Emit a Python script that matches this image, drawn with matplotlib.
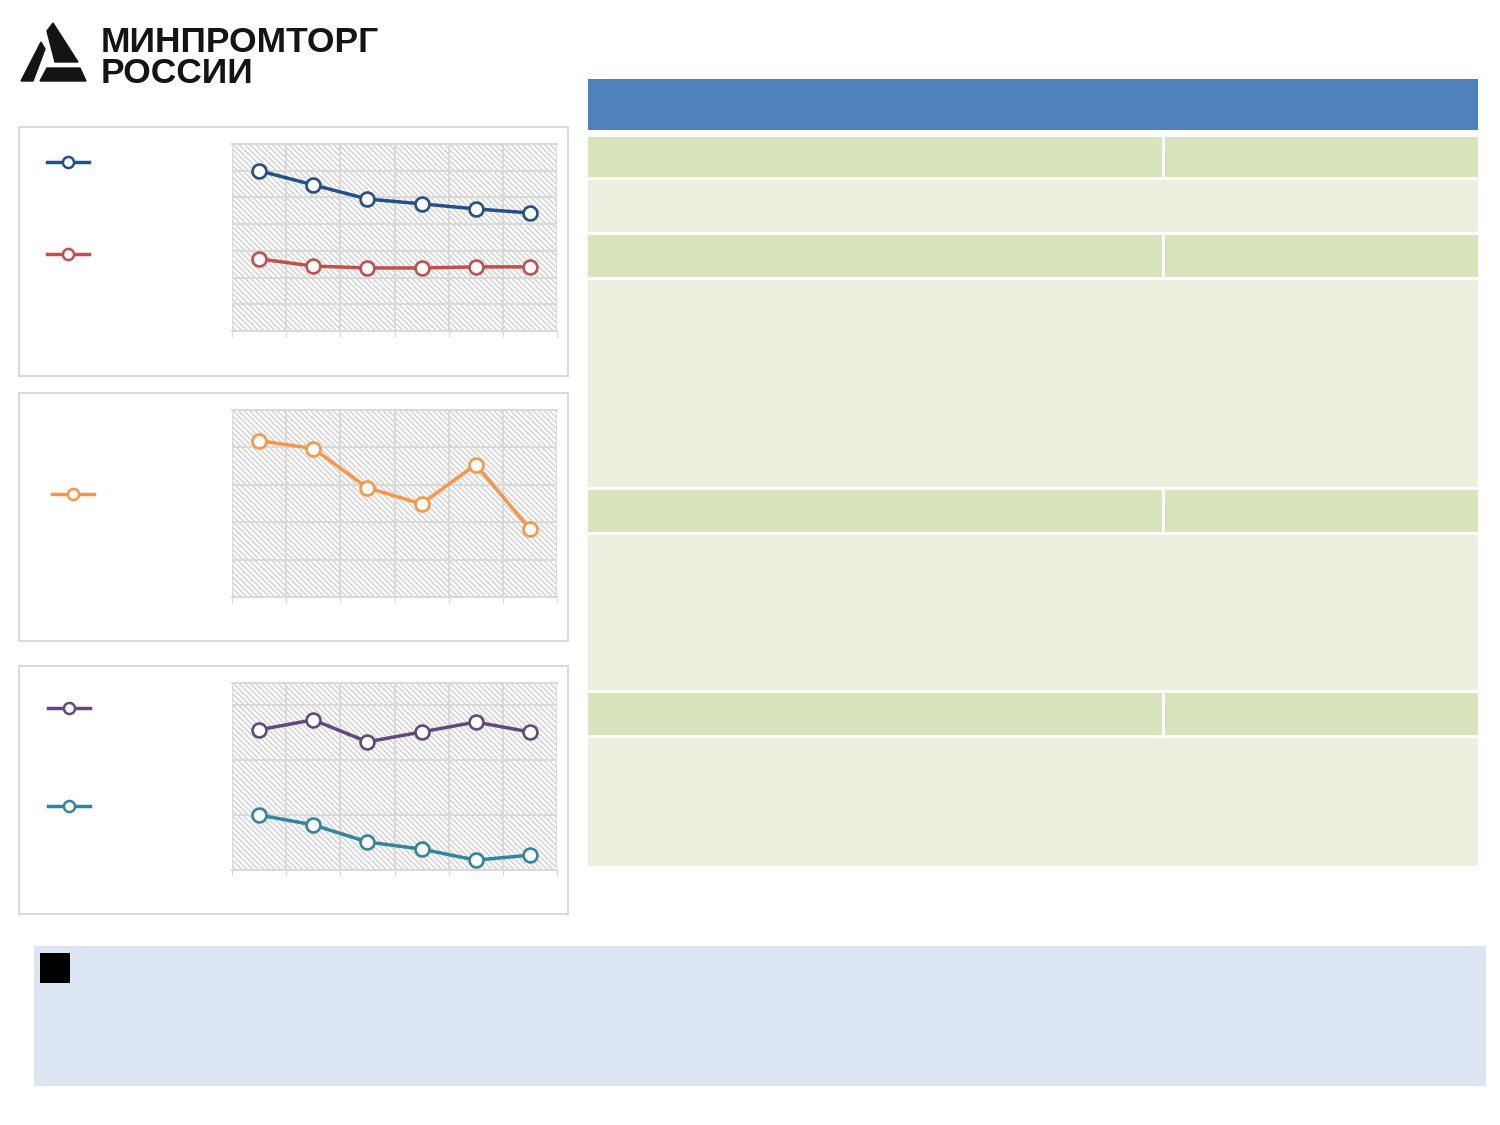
import matplotlib
matplotlib.use("Agg")
import matplotlib.pyplot as plt
import numpy as np
from matplotlib.patches import Rectangle, Polygon
from matplotlib.lines import Line2D

plt.rcParams['font.family'] = ['Liberation Sans', 'DejaVu Sans']
plt.rcParams['hatch.color'] = '#d4d4d4'
plt.rcParams['hatch.linewidth'] = 1.0

# six periods on each chart, no labels shown in the slide
periods = np.arange(6)

blue_vals = [6.0, 5.47, 4.94, 4.76, 4.57, 4.42]
red_vals = [2.70, 2.43, 2.36, 2.36, 2.40, 2.40]

# middle chart (0..5 scale)
orange_vals = [4.18, 3.97, 2.92, 2.49, 3.54, 1.82]

# bottom chart (0..3.4 scale)
purple_vals = [2.55, 2.73, 2.33, 2.51, 2.69, 2.51]
teal_vals = [1.00, 0.82, 0.51, 0.38, 0.18, 0.27]

BLUE = '#24508a'
RED = '#c0504d'
ORANGE = '#f79646'
PURPLE = '#604a7b'
TEAL = '#31859c'
GRID = '#d9d9d9'

W, H = 1500, 1125
fig = plt.figure(figsize=(15, 11.25), dpi=100)

# background layer in pixel coordinates
bg = fig.add_axes([0, 0, 1, 1], zorder=0)
bg.set_xlim(0, W)
bg.set_ylim(H, 0)
bg.axis('off')

# logo
ink = '#141414'
bg.add_patch(Polygon([(47, 31), (53, 23), (78, 62), (55, 62)], color=ink))
bg.add_patch(Polygon([(41, 42), (45, 49), (33, 81), (21, 81)], color=ink))
bg.add_patch(Polygon([(47, 68), (80, 68), (86, 81), (40, 81)], color=ink))
bg.text(101, 52, 'МИНПРОМТОРГ', fontsize=25.5, fontweight='bold', color=ink, va='baseline')
bg.text(101, 83, 'РОССИИ', fontsize=25.5, fontweight='bold', color=ink, va='baseline')

# chart panels
for y0, y1 in [(127, 376), (393, 641), (666, 914)]:
    bg.add_patch(Rectangle((19, y0), 549, y1 - y0, facecolor='white', edgecolor='#dadada', lw=1.5))

# legend keys
def key(x0, y, color):
    bg.add_line(Line2D([x0, x0 + 21, x0 + 42], [y, y, y], color=color, lw=2.5,
                       marker='o', markevery=[1], markersize=8,
                       markerfacecolor='white', markeredgecolor=color, markeredgewidth=1.8))

key(47, 162, BLUE)
key(47, 254, RED)
key(52, 494, ORANGE)
key(48, 708, PURPLE)
key(48, 806, TEAL)

# table on the right
bg.add_patch(Rectangle((588, 79), 890, 51, facecolor='#4f81bd', edgecolor='none'))
table_rows = [(137, 177, 'head'), (180, 232, 'body'), (235, 277, 'head'), (280, 487, 'body'),
              (490, 532, 'head'), (535, 690, 'body'), (693, 735, 'head'), (738, 866, 'body')]
for y0, y1, kind in table_rows:
    c = '#d7e4bc' if kind == 'head' else '#ebf1de'
    bg.add_patch(Rectangle((588, y0), 890, y1 - y0, facecolor=c, edgecolor='none'))
    if kind == 'head':
        bg.plot([1163, 1163], [y0, y1], color='white', lw=2.2)

# bottom note box
bg.add_patch(Rectangle((34, 946), 1452, 140, facecolor='#dce6f2', edgecolor='none'))
bg.add_patch(Rectangle((40, 953), 30, 30, facecolor='black', edgecolor='none'))


def chart(top, bottom, ymax, ystep, series):
    ax = fig.add_axes([232 / W, 1 - bottom / H, 325 / W, (bottom - top) / H], zorder=2)
    ax.set_xlim(-0.5, 5.5)
    ax.set_ylim(0, ymax)
    ax.add_patch(Rectangle((-0.5, 0), 6, ymax, facecolor='white', edgecolor='#d0d0d0', lw=0,
                           hatch='\\\\\\\\\\\\', zorder=0))
    ax.set_xticks(np.arange(-0.5, 6, 1))
    ax.set_yticks(np.arange(0, ymax + 0.01, ystep))
    ax.grid(True, color=GRID, lw=1.4, zorder=1)
    ax.set_axisbelow(True)
    ax.tick_params(axis='x', length=4, color=GRID, direction='out', labelbottom=False)
    ax.tick_params(axis='y', length=0, labelleft=False)
    for s in ['left', 'right']:
        ax.spines[s].set_visible(False)
    ax.spines['top'].set_color(GRID)
    ax.spines['bottom'].set_color(GRID)
    ax.spines['top'].set_linewidth(1.4)
    ax.spines['bottom'].set_linewidth(1.4)
    for vals, color in series:
        ax.plot(periods, vals, color=color, lw=2.5, marker='o', markersize=10,
                markerfacecolor='white', markeredgecolor=color, markeredgewidth=1.9,
                zorder=3, clip_on=False)
    return ax


chart(144, 331, 7, 1, [(blue_vals, BLUE), (red_vals, RED)])
chart(410, 597, 5, 1, [(orange_vals, ORANGE)])
chart(683, 870, 3.4, 1, [(purple_vals, PURPLE), (teal_vals, TEAL)])

fig.savefig('out.png', dpi=100, facecolor='white')
